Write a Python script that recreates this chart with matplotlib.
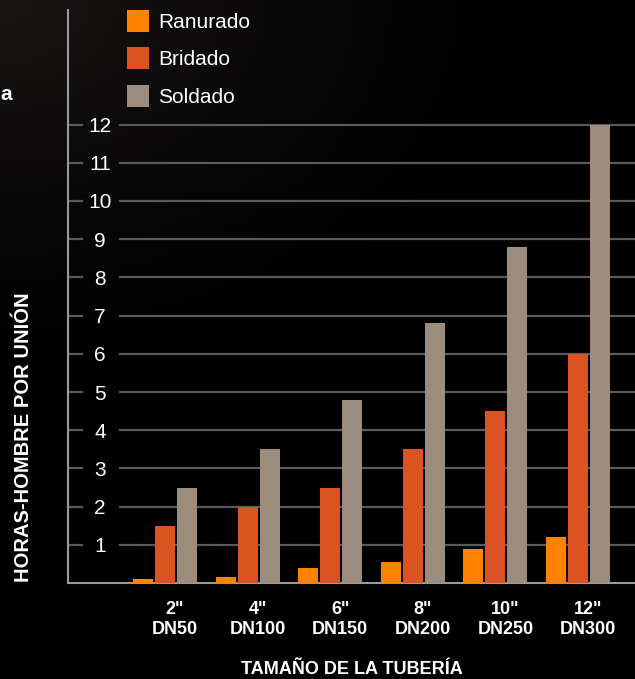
import numpy as np
import matplotlib
matplotlib.use("Agg")
import matplotlib.pyplot as plt

# datos
tamanos = ['2"\nDN50', '4"\nDN100', '6"\nDN150', '8"\nDN200', '10"\nDN250', '12"\nDN300']
ranurado = [0.1, 0.15, 0.4, 0.55, 0.9, 1.2]
bridado = [1.5, 2.0, 2.5, 3.5, 4.5, 6.0]
soldado = [2.5, 3.5, 4.8, 6.8, 8.8, 12.0]
series = ['Ranurado', 'Bridado', 'Soldado']
colores = ['#FF8200', '#DB5321', '#9B8C7D']
yticks = list(range(1, 13))

plt.rcParams['font.family'] = ['Liberation Sans', 'DejaVu Sans']

W, H = 635, 679
fig = plt.figure(figsize=(W / 100, H / 100), dpi=100)
fig.patch.set_facecolor('black')

# fondo con un leve degradado arriba a la izquierda
bg = fig.add_axes([0, 0, 1, 1], zorder=-5)
yy, xx = np.mgrid[0:1:200j, 0:1:200j]
d = np.sqrt((xx / 0.9) ** 2 + (yy / 0.6) ** 2)
g = np.clip(1 - d, 0, 1) ** 1.5 * 0.09
img = np.dstack([g * 1.1, g * 0.95, g * 0.9])
bg.imshow(np.clip(img, 0, 1), extent=[0, 1, 0, 1], aspect='auto', origin='upper')
bg.axis('off')

# ejes en pixeles
left, right, base, top = 68, 635, 583, 10
ax = fig.add_axes([left / W, (H - base) / H, (right - left) / W, (base - top) / H])
ax.set_facecolor('none')

unit = 82.6
x0 = (165 - left) / unit
ax.set_xlim(-x0, -x0 + (right - left) / unit)
ax.set_ylim(0, 15)

x = np.arange(len(tamanos))
bw = 20 / unit
step = 22 / unit
for k, (vals, c, name) in enumerate(zip([ranurado, bridado, soldado], colores, series)):
    ax.bar(x + (k - 1) * step, vals, width=bw, color=c, zorder=3, label=name)

# lineas de cuadricula y marcas cortas
gx0 = (120 - left) / (right - left)
tx1 = (82 - left) / (right - left)
for v in yticks:
    ax.axhline(v, xmin=gx0, xmax=1, color='#5a5a5a', lw=1.6, zorder=1)
    ax.axhline(v, xmin=0, xmax=tx1, color='#5a5a5a', lw=1.6, zorder=1)

ax.set_yticks(yticks)
ax.set_yticklabels([str(v) for v in yticks], fontsize=15, color='white', ha='center')
ax.tick_params(axis='y', length=0, pad=-32 * 72 / 100)

ax.set_xticks(x + 10 / unit)
ax.set_xticklabels(tamanos, fontsize=13, color='white', fontweight='bold', linespacing=1.2)
ax.tick_params(axis='x', length=0, pad=13)

for s in ['top', 'right']:
    ax.spines[s].set_visible(False)
for s in ['left', 'bottom']:
    ax.spines[s].set_color('#9a9a9a')
    ax.spines[s].set_linewidth(1.5)

ax.set_xlabel('TAMAÑO DE LA TUBERÍA', fontsize=13, color='white', fontweight='bold', labelpad=17)
fig.text(24 / W, 1 - 437 / H, 'HORAS-HOMBRE POR UNIÓN', rotation=90, fontsize=14.5,
         color='white', fontweight='bold', ha='center', va='center')

# leyenda
leg = ax.legend(loc='upper left', bbox_to_anchor=((119 - left) / (right - left), 1.015),
                frameon=False, fontsize=15, labelcolor='white', handlelength=1.06,
                handleheight=1.25, handletextpad=0.42, labelspacing=0.75, borderaxespad=0)

fig.text(0, 1 - 94 / H, 'a', fontsize=15, color='white', fontweight='bold', va='center')

fig.savefig('out.png', dpi=100, facecolor=fig.get_facecolor())
